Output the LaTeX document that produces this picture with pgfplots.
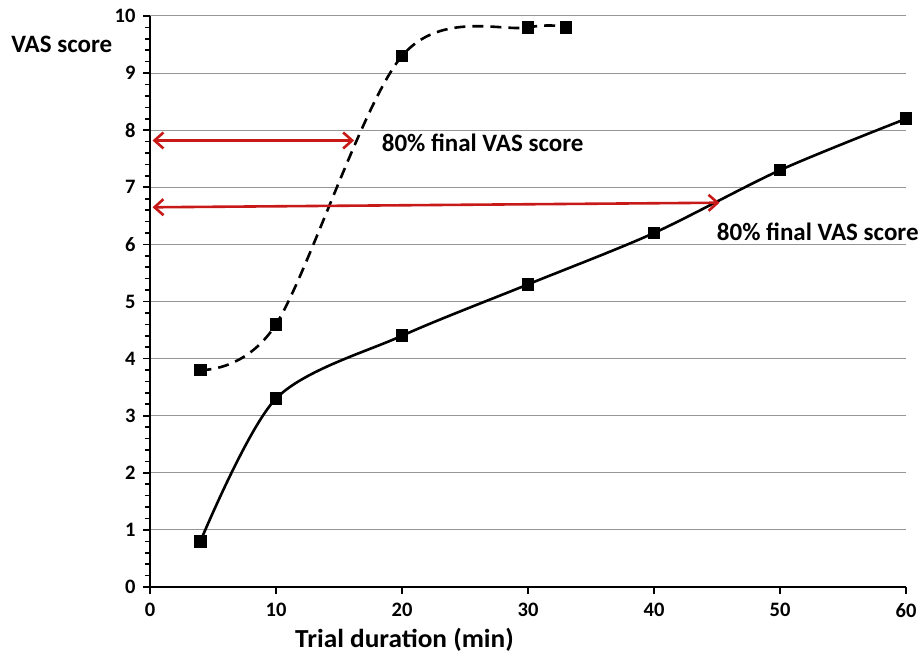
\documentclass[border=0pt]{standalone}
\usepackage{fontspec}
\setmainfont{Carlito}
\usepackage{pgfplots}
\pgfplotsset{compat=1.18}
\usetikzlibrary{arrows.meta}
\definecolor{arrred}{RGB}{200,25,25}
\definecolor{gridgray}{RGB}{150,150,150}
\begin{document}
\begin{tikzpicture}
\path[use as bounding box] (0,0) rectangle (923pt,665pt);
\begin{axis}[
  at={(150pt,78pt)}, anchor=south west,
  scale only axis, width=756pt, height=571pt,
  xmin=0, xmax=60, ymin=0, ymax=10,
  axis x line*=bottom, axis y line*=left,
  axis line style={line width=2pt, -},
  xtick={0,10,...,60}, ytick={0,1,...,10},
  minor y tick num=4,
  tick align=outside,
  major tick length=7pt, minor tick length=5pt,
  tick style={line width=1.6pt, black},
  ymajorgrids, grid style={gridgray, line width=1pt},
  /pgf/number format/assume math mode=true,
  ticklabel style={font=\fontsize{20.5}{24}\selectfont\bfseries},
  xticklabel style={yshift=-6pt},
  yticklabel style={xshift=-4pt},
  clip=false,
]
\addplot[black, line width=2.6pt, smooth, tension=0.55, dash pattern=on 11pt off 7pt,
  mark=square*, mark size=5pt, mark options={solid}]
  coordinates {(4,3.8) (10,4.6) (20,9.3) (30,9.8) (33,9.8)};
\addplot[black, line width=2.6pt, smooth, tension=0.5,
  mark=square*, mark size=5pt, mark options={solid}]
  coordinates {(4,0.8) (10,3.3) (20,4.4) (30,5.3) (40,6.2) (50,7.3) (60,8.2)};
\draw[arrred, line width=2.6pt, {Straight Barb[length=9pt,width=16pt]}-{Straight Barb[length=9pt,width=16pt]}]
  (axis cs:0.2,7.82) -- (axis cs:16.2,7.82);
\draw[arrred, line width=2.6pt, {Straight Barb[length=9pt,width=16pt]}-{Straight Barb[length=9pt,width=16pt]}]
  (axis cs:0.2,6.65) -- (axis cs:45.2,6.73);
\node[font=\fontsize{25}{29}\selectfont\bfseries] at (axis cs:26.4,7.78) {80\% final VAS score};
\node[font=\fontsize{25}{29}\selectfont\bfseries] at (axis cs:53.0,6.22) {80\% final VAS score};
\node[font=\fontsize{25}{29}\selectfont\bfseries] at (axis cs:-7.0,9.51) {VAS score};
\node[font=\fontsize{26}{30}\selectfont\bfseries, xscale=1.05] at (axis cs:20.2,-0.93) {Trial duration (min)};
\end{axis}
\end{tikzpicture}
\end{document}
